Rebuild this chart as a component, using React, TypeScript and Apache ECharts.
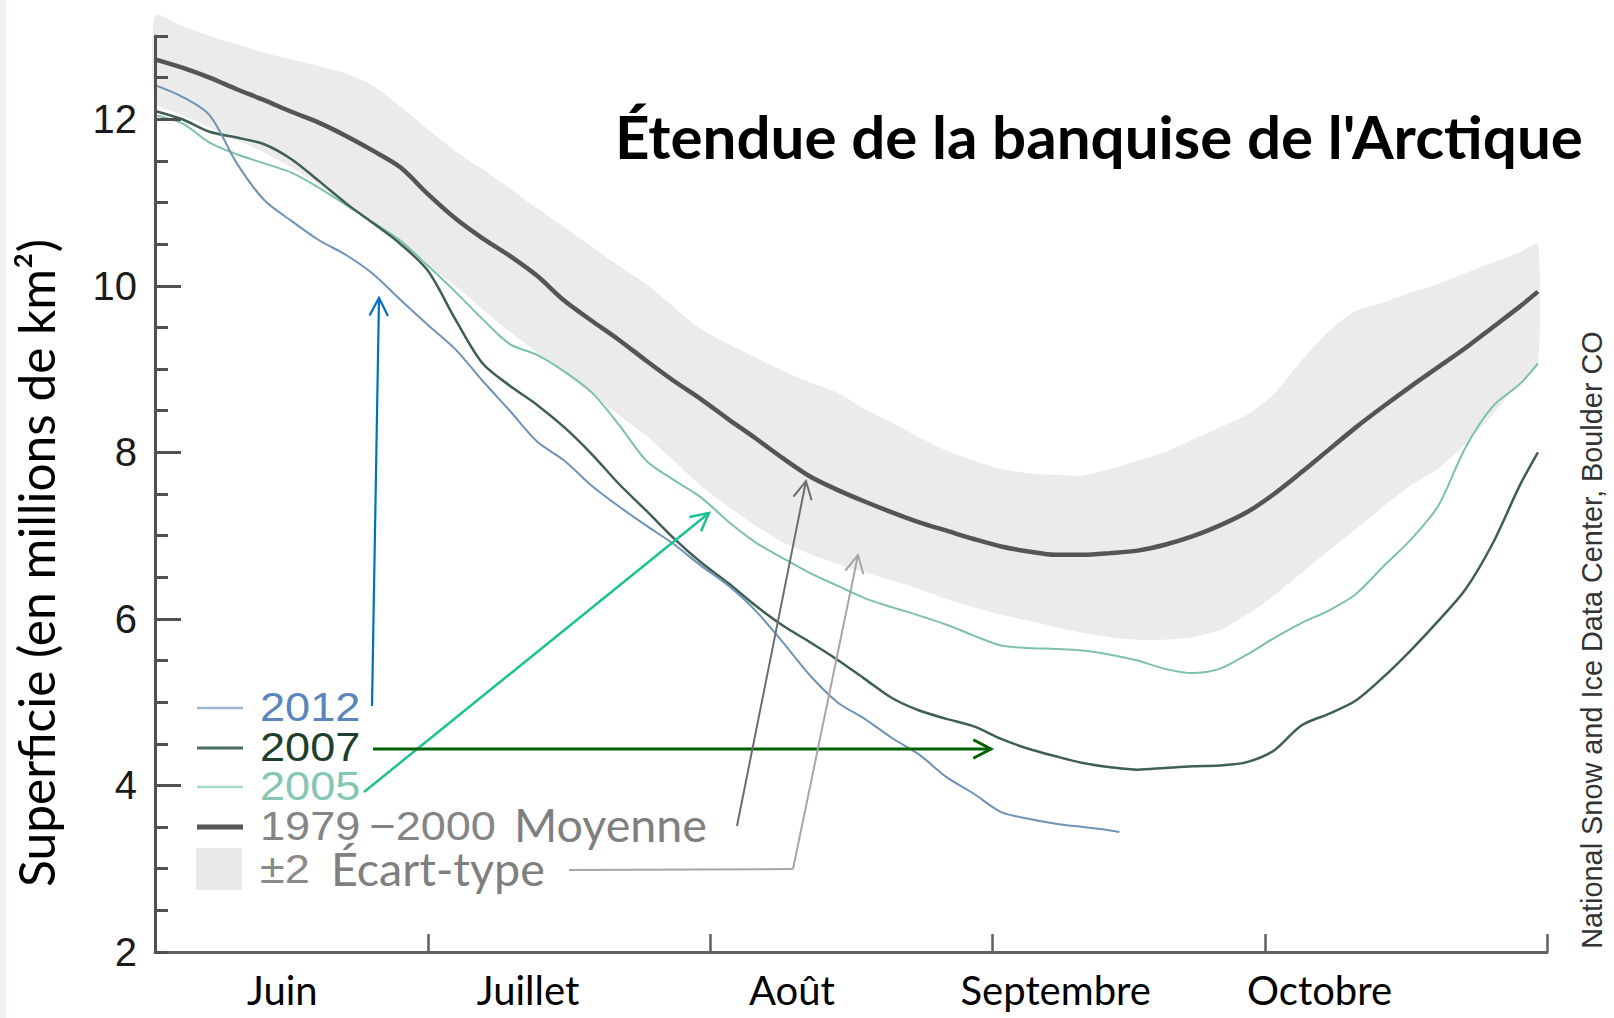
import React, { useEffect, useRef } from 'react';
import * as echarts from 'echarts';

// Day offsets from 1 June (x), sea-ice extent in millions of km² (y)
const dayGrid = [0, 3, 6, 9, 12, 15, 18, 21, 24, 27, 30, 33, 36, 39, 42, 45, 48, 51, 54, 57, 60, 63, 66, 69, 72, 75, 78, 81, 84, 87, 90, 93, 96, 99, 102, 105, 108, 111, 114, 117, 120, 123, 126, 129, 132, 135, 138, 141, 144, 147, 150, 152];
const days2012 = [0, 3, 6, 9, 12, 15, 18, 21, 24, 27, 30, 33, 36, 39, 42, 45, 48, 51, 54, 57, 60, 63, 66, 69, 72, 75, 78, 81, 84, 87, 90, 93, 96, 99, 102, 105, 106];

const mean19792000 = [12.72, 12.62, 12.5, 12.36, 12.23, 12.09, 11.96, 11.8, 11.62, 11.42, 11.1, 10.81, 10.57, 10.36, 10.12, 9.82, 9.58, 9.35, 9.1, 8.86, 8.64, 8.4, 8.17, 7.93, 7.71, 7.55, 7.41, 7.28, 7.16, 7.06, 6.96, 6.87, 6.81, 6.77, 6.77, 6.79, 6.82, 6.89, 6.99, 7.12, 7.28, 7.5, 7.76, 8.03, 8.3, 8.55, 8.79, 9.02, 9.25, 9.5, 9.75, 9.93];
const band2sdHigh = [13.25, 13.12, 13.0, 12.9, 12.8, 12.72, 12.64, 12.55, 12.4, 12.15, 11.88, 11.62, 11.4, 11.17, 10.93, 10.7, 10.47, 10.24, 10.02, 9.75, 9.48, 9.3, 9.14, 8.98, 8.84, 8.72, 8.52, 8.36, 8.18, 8.02, 7.9, 7.8, 7.75, 7.73, 7.72, 7.8, 7.9, 8.0, 8.15, 8.3, 8.45, 8.7, 9.1, 9.45, 9.7, 9.8, 9.92, 10.02, 10.15, 10.28, 10.4, 10.5];
const band2sdLow = [12.2, 12.05, 11.9, 11.75, 11.6, 11.42, 11.22, 11.0, 10.76, 10.5, 10.25, 10.0, 9.72, 9.45, 9.2, 8.95, 8.7, 8.45, 8.2, 7.9, 7.6, 7.35, 7.12, 6.92, 6.78, 6.66, 6.56, 6.46, 6.36, 6.24, 6.14, 6.05, 5.98, 5.9, 5.83, 5.78, 5.75, 5.75, 5.78, 5.86, 6.05, 6.28, 6.55, 6.82, 7.08, 7.35, 7.6, 7.8, 8.1, 8.45, 8.85, 9.05];
const ext2007 = [12.1, 12.0, 11.85, 11.78, 11.7, 11.52, 11.26, 10.99, 10.75, 10.5, 10.18, 9.6, 9.07, 8.8, 8.57, 8.3, 7.98, 7.62, 7.3, 6.97, 6.68, 6.43, 6.16, 5.92, 5.72, 5.51, 5.28, 5.05, 4.9, 4.8, 4.71, 4.56, 4.44, 4.35, 4.27, 4.22, 4.19, 4.21, 4.23, 4.24, 4.28, 4.42, 4.72, 4.86, 5.02, 5.3, 5.62, 5.97, 6.35, 6.9, 7.6, 8.0];
const ext2005 = [12.05, 11.95, 11.72, 11.58, 11.47, 11.36, 11.18, 10.97, 10.76, 10.54, 10.24, 9.93, 9.6, 9.3, 9.17, 8.97, 8.72, 8.33, 7.9, 7.67, 7.46, 7.17, 6.92, 6.73, 6.55, 6.4, 6.25, 6.14, 6.04, 5.93, 5.8, 5.68, 5.65, 5.64, 5.62, 5.57, 5.5, 5.4, 5.35, 5.4, 5.57, 5.77, 5.95, 6.1, 6.3, 6.63, 6.95, 7.35, 8.05, 8.55, 8.82, 9.07];
const ext2012 = [12.41, 12.27, 12.05, 11.47, 11.03, 10.78, 10.55, 10.37, 10.14, 9.83, 9.53, 9.24, 8.86, 8.5, 8.13, 7.9, 7.6, 7.35, 7.12, 6.9, 6.64, 6.4, 6.1, 5.72, 5.32, 5.0, 4.8, 4.57, 4.37, 4.1, 3.9, 3.68, 3.6, 3.54, 3.5, 3.46, 3.44];

const monthLabels = ['Juin', 'Juillet', 'Août', 'Septembre', 'Octobre'];
const monthLabelDays = [14, 41, 70, 99, 128];
const monthStartDays = [30, 61, 92, 122, 153];
const yTickValues = [2, 4, 6, 8, 10, 12];

const TITLE = "Étendue de la banquise de l'Arctique";
const Y_NAME = 'Superficie (en millions de km²)';
const CREDIT = 'National Snow and Ice Data Center, Boulder CO';

function fitFont(text: string, weight: string, family: string, target: number, fallback: number) {
  try {
    const ctx = document.createElement('canvas').getContext('2d');
    if (!ctx) return fallback;
    ctx.font = `${weight} 100px ${family}`;
    const w = ctx.measureText(text).width;
    return w > 0 ? (100 * target) / w : fallback;
  } catch (e) {
    return fallback;
  }
}

function arrow(x1: number, y1: number, x2: number, y2: number, color: string, width: number) {
  const ang = Math.atan2(y2 - y1, x2 - x1);
  const L = 20;
  const a = 0.48;
  const p1 = [x2 - L * Math.cos(ang - a), y2 - L * Math.sin(ang - a)];
  const p2 = [x2 - L * Math.cos(ang + a), y2 - L * Math.sin(ang + a)];
  return [
    { type: 'line', z: 100, shape: { x1, y1, x2, y2 }, style: { stroke: color, lineWidth: width } },
    { type: 'polyline', z: 100, shape: { points: [p1, [x2, y2], p2] }, style: { stroke: color, lineWidth: width, fill: null } },
  ];
}

const pairs = (xs: number[], ys: number[]) => ys.map((v, i) => [xs[i], v]);

export default function App() {
  const ref = useRef<HTMLDivElement>(null);

  useEffect(() => {
    const el = ref.current;
    if (!el) return;
    const chart = echarts.init(el, null, { renderer: 'svg' });

    const titleSize = fitFont(TITLE, 'bold', 'Lato', 968, 54);
    const yNameSize = fitFont(Y_NAME, 'normal', 'Lato', 648, 46);
    const creditSize = fitFont(CREDIT, 'normal', "'Liberation Sans'", 618, 25);
    const moySize = fitFont('Moyenne', 'normal', 'Lato', 193, 45);
    const ecartSize = fitFont('Écart-type', 'normal', 'Lato', 214, 45);

    const legendNum = (text: string, y: number, color: string) => ({
      type: 'text',
      x: 260,
      y,
      scaleX: 1.1,
      z: 90,
      style: { text, fill: color, fontSize: 41, fontFamily: 'Liberation Sans', align: 'left', verticalAlign: 'middle' },
    });
    const legendLine = (y: number, color: string, width: number) => ({
      type: 'line',
      z: 90,
      shape: { x1: 197, y1: y, x2: 243, y2: y },
      style: { stroke: color, lineWidth: width },
    });

    const graphics: any[] = [
      { type: 'rect', z: 0, shape: { x: 0, y: 0, width: 6, height: 1018 }, style: { fill: '#eef4ec' } },
      {
        type: 'text',
        x: 36,
        y: 563,
        rotation: Math.PI / 2,
        z: 90,
        style: { text: Y_NAME, fill: '#000', fontSize: yNameSize, fontFamily: 'Lato', align: 'center', verticalAlign: 'middle' },
      },
      {
        type: 'text',
        x: 1592,
        y: 640,
        rotation: Math.PI / 2,
        z: 90,
        style: { text: CREDIT, fill: '#333', fontSize: creditSize, fontFamily: 'Liberation Sans', align: 'center', verticalAlign: 'middle' },
      },
      legendLine(708, '#9db8cf', 2.5),
      legendLine(748, '#4d6d60', 3),
      legendLine(787, '#a9d9ca', 2.5),
      legendLine(827, '#555555', 5),
      { type: 'rect', z: 90, shape: { x: 196, y: 848, width: 46, height: 42 }, style: { fill: '#e8e8e8' } },
      legendNum('2012', 707, '#5a86bb'),
      legendNum('2007', 747, '#1f3f2e'),
      legendNum('2005', 786, '#86c6b4'),
      legendNum('1979\u2009−2000', 826, '#858585'),
      {
        type: 'text',
        x: 514,
        y: 824,
        z: 90,
        style: { text: 'Moyenne', fill: '#7f7f7f', fontSize: moySize, fontFamily: 'Lato', align: 'left', verticalAlign: 'middle' },
      },
      legendNum('±2', 869, '#8a8a8a'),
      {
        type: 'text',
        x: 331,
        y: 868,
        z: 90,
        style: { text: 'Écart-type', fill: '#7f7f7f', fontSize: ecartSize, fontFamily: 'Lato', align: 'left', verticalAlign: 'middle' },
      },
      ...arrow(372, 706, 379, 298, '#0070c0', 2.2),
      ...arrow(364, 792, 709, 513, '#1ec28e', 2.5),
      ...arrow(373, 749, 991, 749, '#006100', 3),
      ...arrow(737, 826, 806, 481, '#6d6d6d', 2),
      { type: 'polyline', z: 100, shape: { points: [[569, 870], [793, 869]] }, style: { stroke: '#a6a6a6', lineWidth: 2, fill: null } },
      ...arrow(793, 869, 858, 555, '#a6a6a6', 2),
    ];

    const option: any = {
      animation: false,
      backgroundColor: '#ffffff',
      title: {
        text: TITLE,
        left: 615,
        top: 136 - (titleSize * 1.2) / 2,
        padding: 0,
        textStyle: { fontFamily: 'Lato', fontWeight: 'bold', fontSize: titleSize, lineHeight: titleSize * 1.2, color: '#000' },
      },
      grid: { left: 155, right: 67, top: 36, bottom: 66, containLabel: false },
      xAxis: {
        type: 'value',
        min: 0,
        max: 153,
        z: 5,
        axisLine: { show: true, lineStyle: { color: '#606060', width: 3 } },
        axisTick: { show: true, inside: true, length: 18, customValues: monthStartDays, lineStyle: { color: '#606060', width: 2.5 } },
        axisLabel: {
          customValues: monthLabelDays,
          formatter: (v: number) => {
            const i = monthLabelDays.indexOf(Math.round(v));
            return i >= 0 ? monthLabels[i] : '';
          },
          margin: 18,
          fontFamily: 'Lato',
          fontSize: 40,
          lineHeight: 40,
          color: '#000',
        },
        splitLine: { show: false },
      },
      yAxis: [
        {
          type: 'value',
          min: 2,
          max: 13,
          interval: 2,
          position: 'left',
          z: 5,
          axisLine: { show: true, lineStyle: { color: '#505050', width: 3 } },
          axisTick: { show: true, inside: true, length: 26, customValues: [4, 6, 8, 10, 12], lineStyle: { color: '#505050', width: 3 } },
          axisLabel: { customValues: yTickValues, margin: 18, fontSize: 40, fontFamily: 'Liberation Sans', color: '#1a1a1a' },
          splitLine: { show: false },
        },
        {
          type: 'value',
          min: 2,
          max: 13,
          interval: 0.5,
          position: 'left',
          z: 5,
          axisLine: { show: false },
          axisTick: { show: true, inside: true, length: 13, lineStyle: { color: '#505050', width: 3 } },
          axisLabel: { show: false },
          splitLine: { show: false },
        },
      ],
      series: [
        {
          type: 'custom',
          name: '±2 Écart-type',
          silent: true,
          z: 1,
          clip: false,
          data: dayGrid.map((d, i) => [d, band2sdLow[i], band2sdHigh[i]]),
          encode: { x: 0, y: [1, 2] },
          renderItem: (params: any, api: any) => {
            if (params.dataIndex !== 0) return null;
            const upper = dayGrid.map((d, i) => api.coord([d, band2sdHigh[i]]));
            const lower = dayGrid.map((d, i) => api.coord([d, band2sdLow[i]])).reverse();
            return {
              type: 'polygon',
              shape: { points: upper.concat(lower), smooth: 0.2 },
              style: { fill: '#ebebeb' },
            };
          },
        },
        {
          type: 'line',
          name: '1979−2000 Moyenne',
          data: pairs(dayGrid, mean19792000),
          showSymbol: false,
          symbol: 'none',
          smooth: 0.3,
          z: 3,
          lineStyle: { color: '#555555', width: 4.5 },
        },
        {
          type: 'line',
          name: '2005',
          data: pairs(dayGrid, ext2005),
          symbol: 'none',
          smooth: 0.3,
          z: 3,
          lineStyle: { color: '#7dc1ad', width: 2 },
        },
        {
          type: 'line',
          name: '2007',
          data: pairs(dayGrid, ext2007),
          symbol: 'none',
          smooth: 0.3,
          z: 3,
          lineStyle: { color: '#405f54', width: 2.5 },
        },
        {
          type: 'line',
          name: '2012',
          data: pairs(days2012, ext2012),
          symbol: 'none',
          smooth: 0.3,
          z: 3,
          lineStyle: { color: '#6f92b8', width: 2 },
        },
      ],
      graphic: { elements: graphics },
    };

    chart.setOption(option);
    return () => chart.dispose();
  }, []);

  return <div ref={ref} style={{ position: 'absolute', left: 0, top: 0, width: 1614, height: 1018, background: '#fff' }} />;
}
